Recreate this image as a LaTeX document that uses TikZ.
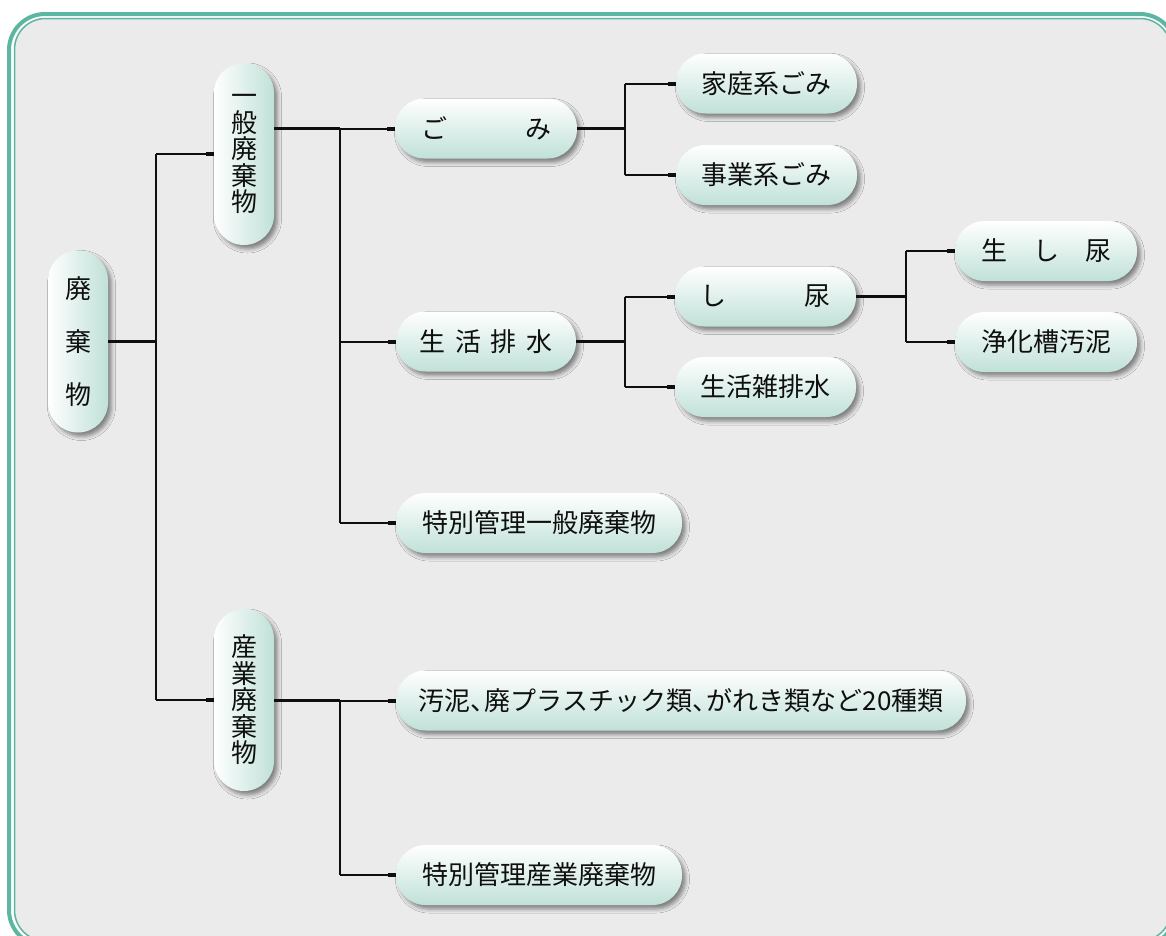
\documentclass[tikz,border=0pt]{standalone}
\usepackage{fontspec}
\setmainfont{Noto Sans CJK JP}
\usetikzlibrary{shadows.blur}
\definecolor{framec}{RGB}{92,182,162}
\definecolor{mint}{RGB}{192,225,216}
\definecolor{bgc}{RGB}{235,235,235}
\definecolor{ink}{RGB}{15,15,15}
\tikzset{
  boxbase/.style={rectangle, inner sep=0pt, draw=none, text=ink,
    blur shadow={shadow xshift=3.5pt, shadow yshift=-4pt, shadow blur radius=4pt, shadow opacity=45}},
  hbox/.style={boxbase, rounded corners=29.5pt, minimum height=60pt,
    top color=white, bottom color=mint, font=\fontsize{26}{30}\selectfont},
  vbox/.style={boxbase, rounded corners=30pt, minimum width=60pt, minimum height=182pt,
    left color=white, right color=mint, align=center},
  mainline/.style={line width=3pt, ink},
  branchline/.style={line width=2pt, ink},
  stubline/.style={line width=4pt, ink},
}
\begin{document}
\begin{tikzpicture}[x=1pt,y=-1pt]
\useasboundingbox (0,0) rectangle (1166,935);
\begin{scope}
\clip (0,0) rectangle (1166,935);
\fill[white] (0,0) rectangle (1166,935);
\draw[framec, line width=4pt, fill=white, rounded corners=36pt] (9,14) rectangle (1176,946);
\draw[framec, line width=1.5pt, fill=bgc, rounded corners=31pt] (14.5,18.5) rectangle (1171,941);
\end{scope}

% nodes
\node[vbox, font=\fontsize{26}{53}\selectfont] (haiki) at (78,341.5) {廃\\棄\\物};
\node[vbox, font=\fontsize{26}{26.5}\selectfont] (ippan) at (244,154) {一\\般\\廃\\棄\\物};
\node[vbox, font=\fontsize{26}{26.5}\selectfont] (sangyo) at (244,700) {産\\業\\廃\\棄\\物};

\node[hbox, minimum width=182pt] (gomi) at (486,128.5) {ご\hspace{3em}み};
\node[hbox, minimum width=180pt] (seikatsu) at (486,341.5) {生\hspace{.36em}活\hspace{.36em}排\hspace{.36em}水};
\node[hbox, minimum width=286pt] (tokuippan) at (539,523) {特別管理一般廃棄物};

\node[hbox, minimum width=181pt] (katei) at (766.5,83.5) {家庭系ごみ};
\node[hbox, minimum width=181pt] (jigyo) at (766.5,175) {事業系ごみ};
\node[hbox, minimum width=181pt] (shinyo) at (765.5,296.5) {し\hspace{3em}尿};
\node[hbox, minimum width=181pt] (zatsu) at (765.5,387) {生活雑排水};

\node[hbox, minimum width=182pt] (nama) at (1046,251) {生\hspace{1em}し\hspace{1em}尿};
\node[hbox, minimum width=182pt] (jouka) at (1046,342) {浄化槽汚泥};

\node[hbox, minimum width=570pt] (odei) at (681,700.5) {汚泥、\hspace{-0.45em}廃プラスチック類、\hspace{-0.45em}がれき類など20種類};
\node[hbox, minimum width=286pt] (tokusangyo) at (539,875) {特別管理産業廃棄物};

% junction columns
\coordinate (jA) at (156,0);
\coordinate (jB) at (340,0);
\coordinate (jC) at (625,0);
\coordinate (jD) at (906,0);

% 廃棄物
\draw[mainline] (haiki.east) -- (haiki.east -| jA);
\draw[branchline] (ippan.west -| jA) -- (sangyo.west -| jA);
\draw[branchline] (ippan.west -| jA) -- (ippan.west);
\draw[branchline] (sangyo.west -| jA) -- (sangyo.west);
\draw[stubline] ([xshift=-8pt]ippan.west) -- (ippan.west);
\draw[stubline] ([xshift=-8pt]sangyo.west) -- (sangyo.west);

% 一般廃棄物
\draw[mainline] (ippan.east |- gomi.west) -- (gomi.west -| jB);
\draw[branchline] (gomi.west -| jB) -- (tokuippan.west -| jB);
\draw[branchline] (gomi.west -| jB) -- (gomi.west);
\draw[branchline] (seikatsu.west -| jB) -- (seikatsu.west);
\draw[branchline] (tokuippan.west -| jB) -- (tokuippan.west);
\draw[stubline] ([xshift=-8pt]gomi.west) -- (gomi.west);
\draw[stubline] ([xshift=-8pt]seikatsu.west) -- (seikatsu.west);
\draw[stubline] ([xshift=-8pt]tokuippan.west) -- (tokuippan.west);

% 産業廃棄物
\draw[mainline] (sangyo.east |- odei.west) -- (odei.west -| jB);
\draw[branchline] (odei.west -| jB) -- (tokusangyo.west -| jB);
\draw[branchline] (odei.west -| jB) -- (odei.west);
\draw[branchline] (tokusangyo.west -| jB) -- (tokusangyo.west);
\draw[stubline] ([xshift=-8pt]odei.west) -- (odei.west);
\draw[stubline] ([xshift=-8pt]tokusangyo.west) -- (tokusangyo.west);

% ごみ
\draw[mainline] (gomi.east) -- (gomi.east -| jC);
\draw[branchline] (katei.west -| jC) -- (jigyo.west -| jC);
\draw[branchline] (katei.west -| jC) -- (katei.west);
\draw[branchline] (jigyo.west -| jC) -- (jigyo.west);
\draw[stubline] ([xshift=-8pt]katei.west) -- (katei.west);
\draw[stubline] ([xshift=-8pt]jigyo.west) -- (jigyo.west);

% 生活排水
\draw[mainline] (seikatsu.east) -- (seikatsu.east -| jC);
\draw[branchline] (shinyo.west -| jC) -- (zatsu.west -| jC);
\draw[branchline] (shinyo.west -| jC) -- (shinyo.west);
\draw[branchline] (zatsu.west -| jC) -- (zatsu.west);
\draw[stubline] ([xshift=-8pt]shinyo.west) -- (shinyo.west);
\draw[stubline] ([xshift=-8pt]zatsu.west) -- (zatsu.west);

% し尿
\draw[mainline] (shinyo.east) -- (shinyo.east -| jD);
\draw[branchline] (nama.west -| jD) -- (jouka.west -| jD);
\draw[branchline] (nama.west -| jD) -- (nama.west);
\draw[branchline] (jouka.west -| jD) -- (jouka.west);
\draw[stubline] ([xshift=-8pt]nama.west) -- (nama.west);
\draw[stubline] ([xshift=-8pt]jouka.west) -- (jouka.west);
\end{tikzpicture}
\end{document}
